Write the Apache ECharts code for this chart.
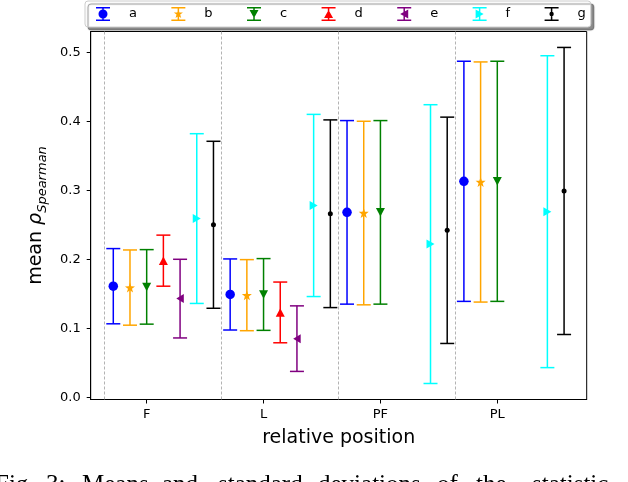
<!DOCTYPE html>
<html>
<head>
<meta charset="utf-8">
<script src="https://cdn.jsdelivr.net/npm/echarts@6/dist/echarts.min.js"></script>
<style>
html,body{margin:0;padding:0;background:#fff;}
#chart{width:628px;height:482px;}
</style>
</head>
<body>
<div id="chart"></div>
<script>
// ---- data ----
const categories = ['F', 'L', 'PF', 'PL'];
const seriesNames = ['a', 'b', 'c', 'd', 'e', 'f', 'g'];
const yTicks = [0, 0.1, 0.2, 0.3, 0.4, 0.5];

const mean_a = [0.161, 0.149, 0.268, 0.313];
const std_a  = [0.0545, 0.0515, 0.133, 0.174];
const mean_b = [0.159, 0.148, 0.267, 0.312];
const std_b  = [0.0545, 0.0515, 0.133, 0.174];
const mean_c = [0.160, 0.149, 0.268, 0.313];
const std_c  = [0.054, 0.052, 0.133, 0.174];
const mean_d = [0.198, 0.123, null, null];
const std_d  = [0.037, 0.044, null, null];
const mean_e = [0.143, 0.085, null, null];
const std_e  = [0.057, 0.0475, null, null];
const mean_f = [0.259, 0.278, 0.222, 0.269];
const std_f  = [0.123, 0.132, 0.202, 0.226];
const mean_g = [0.250, 0.266, 0.242, 0.299];
const std_g  = [0.121, 0.136, 0.164, 0.208];

const captionWords = ['Fig.', '3:', 'Means', 'and', 'standard', 'deviations', 'of', 'the', 'statistic'];

// ---- styling ----
const means = [mean_a, mean_b, mean_c, mean_d, mean_e, mean_f, mean_g];
const stds = [std_a, std_b, std_c, std_d, std_e, std_f, std_g];
const colors = ['#0000ff', '#ffa500', '#008000', '#ff0000', '#800080', '#00ffff', '#000000'];
const markerSymbols = [
  'circle',
  'path://M50,0L61.76,33.82L97.55,34.55L69.02,56.18L79.39,90.45L50,70L20.61,90.45L30.98,56.18L2.45,34.55L38.24,33.82Z',
  'path://M0,0L10,0L5,9Z',
  'path://M5,0L10,9L0,9Z',
  'path://M0,5L9,0L9,10Z',
  'path://M9,5L0,0L0,10Z',
  'circle'
];
const markerSizes = [9.5, 10, [9, 8.5], [9, 8.5], [7.5, 9], [8, 9], 5];
const iconBase = 'M0,0L14,0L14,1.5L0,1.5Z M6.25,1.5L7.75,1.5L7.75,12.5L6.25,12.5Z M0,12.5L14,12.5L14,14L0,14Z ';
const iconMarks = [
  'M2.5,7A4.5,4.5,0,1,1,11.5,7A4.5,4.5,0,1,1,2.5,7Z',
  'M7,2.2L8.13,5.45L11.56,5.52L8.83,7.59L9.82,10.88L7,8.92L4.18,10.88L5.17,7.59L2.44,5.52L5.87,5.45Z',
  'M2.5,3L11.5,3L7,11Z',
  'M7,3L11.5,11L2.5,11Z',
  'M3,7L11,2.5L11,11.5Z',
  'M11,7L3,11.5L3,2.5Z',
  'M4.8,7A2.2,2.2,0,1,1,9.2,7A2.2,2.2,0,1,1,4.8,7Z'
];
const FONT = 'DejaVu Sans';

function renderErr(params, api) {
  const x = api.value(0);
  const lo = api.coord([x, api.value(1)]);
  const hi = api.coord([x, api.value(2)]);
  const c = api.visual('color');
  const hw = 7;
  const st = {stroke: c, lineWidth: 1.5};
  return {
    type: 'group',
    children: [
      {type: 'line', shape: {x1: lo[0], y1: lo[1], x2: hi[0], y2: hi[1]}, style: st},
      {type: 'line', shape: {x1: lo[0] - hw, y1: lo[1], x2: lo[0] + hw, y2: lo[1]}, style: st},
      {type: 'line', shape: {x1: hi[0] - hw, y1: hi[1], x2: hi[0] + hw, y2: hi[1]}, style: st}
    ]
  };
}

const series = [];
seriesNames.forEach((name, k) => {
  const errData = [];
  const ptData = [];
  categories.forEach((cat, i) => {
    const m = means[k][i];
    if (m === null || m === undefined) return;
    const x = i + (k - 2) / 7;
    errData.push([x, m - stds[k][i], m + stds[k][i]]);
    ptData.push([x, m]);
  });
  const errSeries = {
    name: name,
    type: 'custom',
    renderItem: renderErr,
    itemStyle: {color: colors[k]},
    data: errData,
    z: 2 + k * 2,
    silent: true
  };
  if (k === 0) {
    errSeries.markLine = {
      silent: true,
      symbol: ['none', 'none'],
      label: {show: false},
      lineStyle: {color: '#a0a0a0', type: [3, 2], width: 0.8},
      data: categories.map((c, i) => ({xAxis: i - 2.5 / 7}))
    };
  }
  series.push(errSeries);
  series.push({
    name: name,
    type: 'scatter',
    symbol: markerSymbols[k],
    symbolSize: markerSizes[k],
    itemStyle: {color: colors[k], opacity: 1},
    data: ptData,
    z: 3 + k * 2,
    silent: true
  });
});

const graphics = [];
const captionX = [-5, 46, 82, 162, 218, 318, 437, 476, 532];
captionWords.forEach((w, i) => {
  graphics.push({
    type: 'text', left: captionX[i], top: 473, silent: true,
    style: {text: w, font: '25px "Liberation Serif", "DejaVu Serif", serif', fill: '#000'}
  });
});

const option = {
  animation: false,
  backgroundColor: '#ffffff',
  grid: {left: 90.7, right: 41.3, top: 31.5, bottom: 82.5, show: true, borderColor: '#000', borderWidth: 1, backgroundColor: 'transparent'},
  legend: {
    left: 85, top: 1,
    padding: [6, 5, 6, 11],
    itemWidth: 14, itemHeight: 14, itemGap: 34.4,
    backgroundColor: '#fff',
    borderColor: '#cccccc', borderWidth: 1, borderRadius: 3,
    shadowColor: 'rgba(0,0,0,0.45)', shadowOffsetX: 3, shadowOffsetY: 3, shadowBlur: 1,
    selectedMode: false,
    itemStyle: {borderWidth: 0},
    textStyle: {fontFamily: FONT, fontSize: 13, color: '#000', padding: [0, 0, 0, 14]},
    data: seriesNames.map((n, k) => ({name: n, icon: 'path://' + iconBase + iconMarks[k]}))
  },
  xAxis: {
    type: 'value',
    min: -0.479, max: 3.765,
    name: 'relative position',
    nameLocation: 'middle',
    nameGap: 29,
    nameTextStyle: {fontFamily: FONT, fontSize: 19, color: '#000'},
    axisLine: {show: true, onZero: false, lineStyle: {color: '#000', width: 1}},
    axisTick: {show: true, length: 4, lineStyle: {color: '#000'}, customValues: [0, 1, 2, 3]},
    axisLabel: {
      show: true, margin: 9, fontFamily: FONT, fontSize: 13, color: '#000',
      customValues: [0, 1, 2, 3],
      formatter: v => categories[Math.round(v)] || ''
    },
    splitLine: {show: false}
  },
  yAxis: {
    type: 'value',
    min: -0.0032, max: 0.5301,
    name: '{m|mean }{r|ρ}{s|Spearman}',
    nameLocation: 'middle',
    nameGap: 38,
    nameRotate: 90,
    nameTextStyle: {
      fontFamily: FONT, color: '#000',
      rich: {
        m: {fontFamily: FONT, fontSize: 19, lineHeight: 22, verticalAlign: 'top', color: '#000'},
        r: {fontFamily: FONT, fontSize: 19, fontStyle: 'italic', lineHeight: 22, verticalAlign: 'top', color: '#000'},
        s: {fontFamily: FONT, fontSize: 13, fontStyle: 'italic', lineHeight: 13, padding: [10, 0, 0, 0], verticalAlign: 'top', color: '#000'}
      }
    },
    axisLine: {show: true, onZero: false, lineStyle: {color: '#000', width: 1}},
    axisTick: {show: true, length: 4, lineStyle: {color: '#000'}, customValues: yTicks},
    axisLabel: {
      show: true, margin: 10, fontFamily: FONT, fontSize: 13, color: '#000',
      customValues: yTicks,
      formatter: v => v.toFixed(1)
    },
    splitLine: {show: false}
  },
  graphic: graphics,
  series: series
};

const chart = echarts.init(document.getElementById('chart'), null, {renderer: 'canvas'});
chart.setOption(option);
</script>
</body>
</html>
